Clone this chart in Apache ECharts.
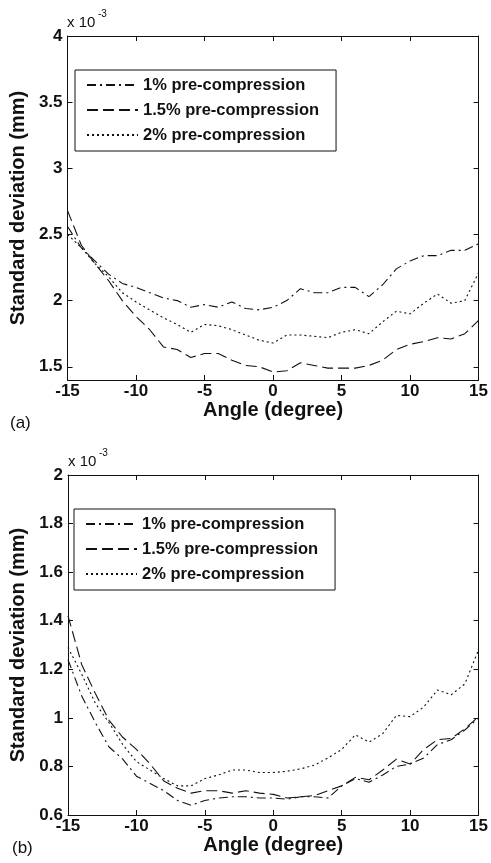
<!DOCTYPE html>
<html>
<head>
<meta charset="utf-8">
<script src="https://cdn.jsdelivr.net/npm/echarts@6/dist/echarts.min.js"></script>
<style>
html,body{margin:0;padding:0;background:#fff;}
#chart{width:491px;height:863px;}
</style>
</head>
<body>
<div id="chart"></div>
<script>
// ---------- data ----------
var angles = [-15,-14,-13,-12,-11,-10,-9,-8,-7,-6,-5,-4,-3,-2,-1,0,1,2,3,4,5,6,7,8,9,10,11,12,13,14,15];
var seriesNames = ["1% pre-compression", "1.5% pre-compression", "2% pre-compression"];

// (a) standard deviation, x 10^-3 mm
var a_1pct  = [2.56,2.40,2.30,2.20,2.13,2.10,2.06,2.02,2.00,1.95,1.97,1.95,1.99,1.94,1.93,1.95,2.00,2.09,2.06,2.06,2.10,2.10,2.03,2.12,2.24,2.30,2.34,2.34,2.38,2.38,2.43];
var a_15pct = [2.68,2.42,2.28,2.15,2.00,1.88,1.78,1.65,1.63,1.57,1.60,1.60,1.55,1.51,1.50,1.46,1.47,1.53,1.51,1.49,1.49,1.49,1.51,1.55,1.63,1.67,1.69,1.72,1.71,1.75,1.85];
var a_2pct  = [2.50,2.40,2.28,2.18,2.06,1.99,1.93,1.87,1.82,1.76,1.82,1.81,1.78,1.74,1.70,1.68,1.74,1.74,1.73,1.72,1.76,1.78,1.75,1.84,1.92,1.90,1.98,2.05,1.98,2.00,2.21];

// (b) standard deviation, x 10^-3 mm
var b_1pct  = [1.24,1.09,0.98,0.88,0.83,0.76,0.73,0.70,0.66,0.64,0.66,0.67,0.675,0.675,0.67,0.67,0.665,0.675,0.675,0.67,0.72,0.75,0.735,0.765,0.80,0.81,0.835,0.89,0.91,0.95,1.00];
var b_15pct = [1.42,1.22,1.10,0.99,0.92,0.87,0.81,0.74,0.71,0.69,0.70,0.70,0.69,0.70,0.69,0.685,0.67,0.675,0.68,0.70,0.72,0.755,0.745,0.785,0.83,0.81,0.87,0.91,0.915,0.955,1.005];
var b_2pct  = [1.29,1.18,1.06,0.98,0.89,0.82,0.785,0.75,0.72,0.72,0.75,0.765,0.785,0.785,0.775,0.775,0.78,0.79,0.805,0.835,0.87,0.93,0.90,0.935,1.01,1.005,1.045,1.115,1.095,1.14,1.28];

var xTicks = [-15,-10,-5,0,5,10,15];
var aYTicks = [1.5,2,2.5,3,3.5,4];
var bYTicks = [0.6,0.8,1,1.2,1.4,1.6,1.8,2];

// ---------- styles ----------
var FONT = "'Liberation Sans', Arial, Helvetica, sans-serif";
var INK = '#111';
var dashStyles = [[9,4,2,4],[11,5],[2,3]];

function zip(xs, ys){ return xs.map(function(x,i){ return [x, ys[i]]; }); }

function xAx(gridIndex, top, nameGap){
  return {
    gridIndex: gridIndex, type: 'value', min: -15, max: 15, interval: 5,
    position: top ? 'top' : 'bottom',
    name: top ? '' : 'Angle (degree)', nameLocation: 'middle', nameGap: nameGap,
    nameTextStyle: {fontFamily: FONT, fontSize: 20, fontWeight: 'bold', color: INK},
    axisLine: {show: true, onZero: false, lineStyle: {color: INK, width: 1}},
    axisTick: {show: true, inside: true, length: 5, lineStyle: {color: INK}},
    axisLabel: {show: !top, margin: 3, fontFamily: FONT, fontSize: 17, fontWeight: 'bold', color: INK},
    splitLine: {show: false}
  };
}
function yAx(gridIndex, right, min, max, ticks, nameGap){
  return {
    gridIndex: gridIndex, type: 'value', min: min, max: max,
    position: right ? 'right' : 'left',
    name: right ? '' : 'Standard deviation (mm)', nameLocation: 'middle', nameGap: nameGap,
    nameTextStyle: {fontFamily: FONT, fontSize: 20, fontWeight: 'bold', color: INK},
    axisLine: {show: true, onZero: false, lineStyle: {color: INK, width: 1}},
    axisTick: {show: true, inside: true, length: 5, lineStyle: {color: INK}, customValues: ticks},
    axisLabel: {show: !right, margin: 5, fontFamily: FONT, fontSize: 17, fontWeight: 'bold', color: INK,
      customValues: ticks,
      formatter: function(v){ return String(Math.round(v*10)/10); }},
    splitLine: {show: false}
  };
}
function mkSeries(name, data, xi, yi, k){
  return {
    name: name, type: 'line', xAxisIndex: xi, yAxisIndex: yi,
    data: data, symbol: 'none', smooth: false, animation: false,
    lineStyle: {color: INK, width: 1.1, type: dashStyles[k]},
    itemStyle: {color: INK}
  };
}
function mkLegend(left, top){
  return {
    data: seriesNames, orient: 'vertical', left: left, top: top,
    itemWidth: 51, itemHeight: 14, itemGap: 7,
    padding: [6, 17, 7, 11],
    borderColor: INK, borderWidth: 1, backgroundColor: '#fff',
    selectedMode: false,
    itemStyle: {color: 'rgba(0,0,0,0)', borderColor: 'rgba(0,0,0,0)', borderWidth: 0, opacity: 0},
    textStyle: {fontFamily: FONT, fontSize: 16.5, fontWeight: 'bold', color: INK, lineHeight: 18}
  };
}

var option = {
  backgroundColor: '#fff',
  animation: false,
  grid: [
    {left: 67, right: 11, top: 36, height: 344},
    {left: 68, right: 11, top: 475, height: 340}
  ],
  xAxis: [xAx(0,false,17), xAx(0,true,0), xAx(1,false,20), xAx(1,true,0)],
  yAxis: [yAx(0,false,1.4,4,aYTicks,38), yAx(0,true,1.4,4,aYTicks,0),
          yAx(1,false,0.6,2,bYTicks,39), yAx(1,true,0.6,2,bYTicks,0)],
  legend: [mkLegend(75, 70), mkLegend(74, 509)],
  series: [
    mkSeries(seriesNames[0], zip(angles, a_1pct), 0, 0, 0),
    mkSeries(seriesNames[1], zip(angles, a_15pct), 0, 0, 1),
    mkSeries(seriesNames[2], zip(angles, a_2pct), 0, 0, 2),
    mkSeries(seriesNames[0], zip(angles, b_1pct), 2, 2, 0),
    mkSeries(seriesNames[1], zip(angles, b_15pct), 2, 2, 1),
    mkSeries(seriesNames[2], zip(angles, b_2pct), 2, 2, 2)
  ],
  graphic: [
    {type:'text', left: 67, top: 15, style:{text:'x 10', font: '15px ' + FONT, fill: INK}},
    {type:'text', left: 98, top: 9, style:{text:'-3', font: '10px ' + FONT, fill: INK}},
    {type:'text', left: 10, top: 415, style:{text:'(a)', font: '17px ' + FONT, fill: INK}},
    {type:'text', left: 68, top: 454, style:{text:'x 10', font: '15px ' + FONT, fill: INK}},
    {type:'text', left: 99, top: 448, style:{text:'-3', font: '10px ' + FONT, fill: INK}},
    {type:'text', left: 12, top: 840, style:{text:'(b)', font: '17px ' + FONT, fill: INK}}
  ]
};

var chart = echarts.init(document.getElementById('chart'), null, {renderer: 'canvas'});
chart.setOption(option);
</script>
</body>
</html>
